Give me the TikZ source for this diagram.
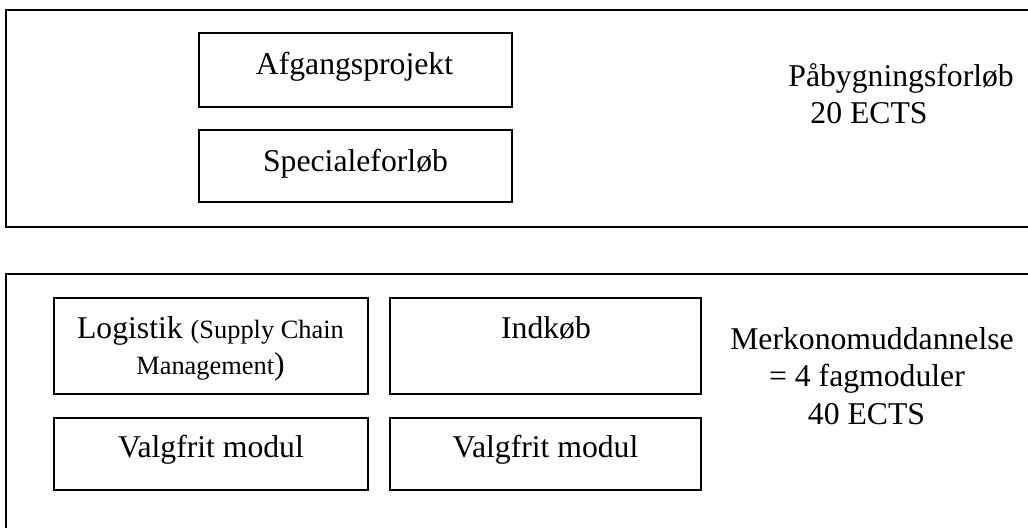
\documentclass[tikz,border=0pt]{standalone}
\usepackage{fontspec}
\setmainfont{Liberation Serif}
\begin{document}
\begin{tikzpicture}[x=0.5pt,y=-0.5pt,
  box/.style={draw=black,line width=0.85pt,rectangle,inner sep=0pt,minimum height=#1},
  box/.default=36pt,
  big/.style={font=\fontsize{15.85}{18}\selectfont,inner sep=0pt},
  lbl/.style={big,anchor=base},
  lblw/.style={big,anchor=base west},
  frame/.style={draw=black,line width=0.95pt}]
\useasboundingbox (0,0) rectangle (1028,528);
\clip (0,0) rectangle (1028,528);
% outer frames
\coordinate (t1) at (1040,10);
\coordinate (t2) at (1040,227);
\coordinate (b1) at (1040,274);
\coordinate (b2) at (6,540);
\draw[frame] (t1) -- (6,10) -- (6,227) -- (t2);
\draw[frame] (b1) -- (6,274) -- (b2);
% top boxes
\node[box=37pt,minimum width=156.5pt] (afg) at (355.5,70) {};
\node[box=36pt,minimum width=156.5pt] (spec) at (355.5,166) {};
\node[lbl] (afgT) at (354.5,75) {Afgangsprojekt};
\node[lbl] (specT) at (355.5,172) {Specialeforløb};
\node[lblw] (pab) at (788,87) {Påbygningsforløb};
\node[lblw] (pabE) at (810,124) {20 ECTS};
% bottom boxes
\node[box=48pt,minimum width=157pt] (log) at (211,346) {};
\node[box=48pt,minimum width=155.5pt] (ind) at (545.5,346) {};
\node[box=36pt,minimum width=157pt] (v1) at (211,454) {};
\node[box=36pt,minimum width=155.5pt] (v2) at (545.5,454) {};
\node[lbl] (logT) at (210.5,339) {Logistik {\fontsize{13.2}{15}\selectfont(Supply Chain}};
\node[lbl] (logT2) at (210.5,375) {{\fontsize{13.2}{15}\selectfont Management})};
\node[lbl] (indT) at (546,339) {Indkøb};
\node[lbl] (v1T) at (211,458) {Valgfrit modul};
\node[lbl] (v2T) at (545.5,458) {Valgfrit modul};
\node[lbl] (mer) at (872,350) {Merkonomuddannelse};
\node[lbl] (mer2) at (867,387) {= 4 fagmoduler};
\node[lbl] (mer3) at (866.5,425) {40 ECTS};
\end{tikzpicture}
\end{document}
